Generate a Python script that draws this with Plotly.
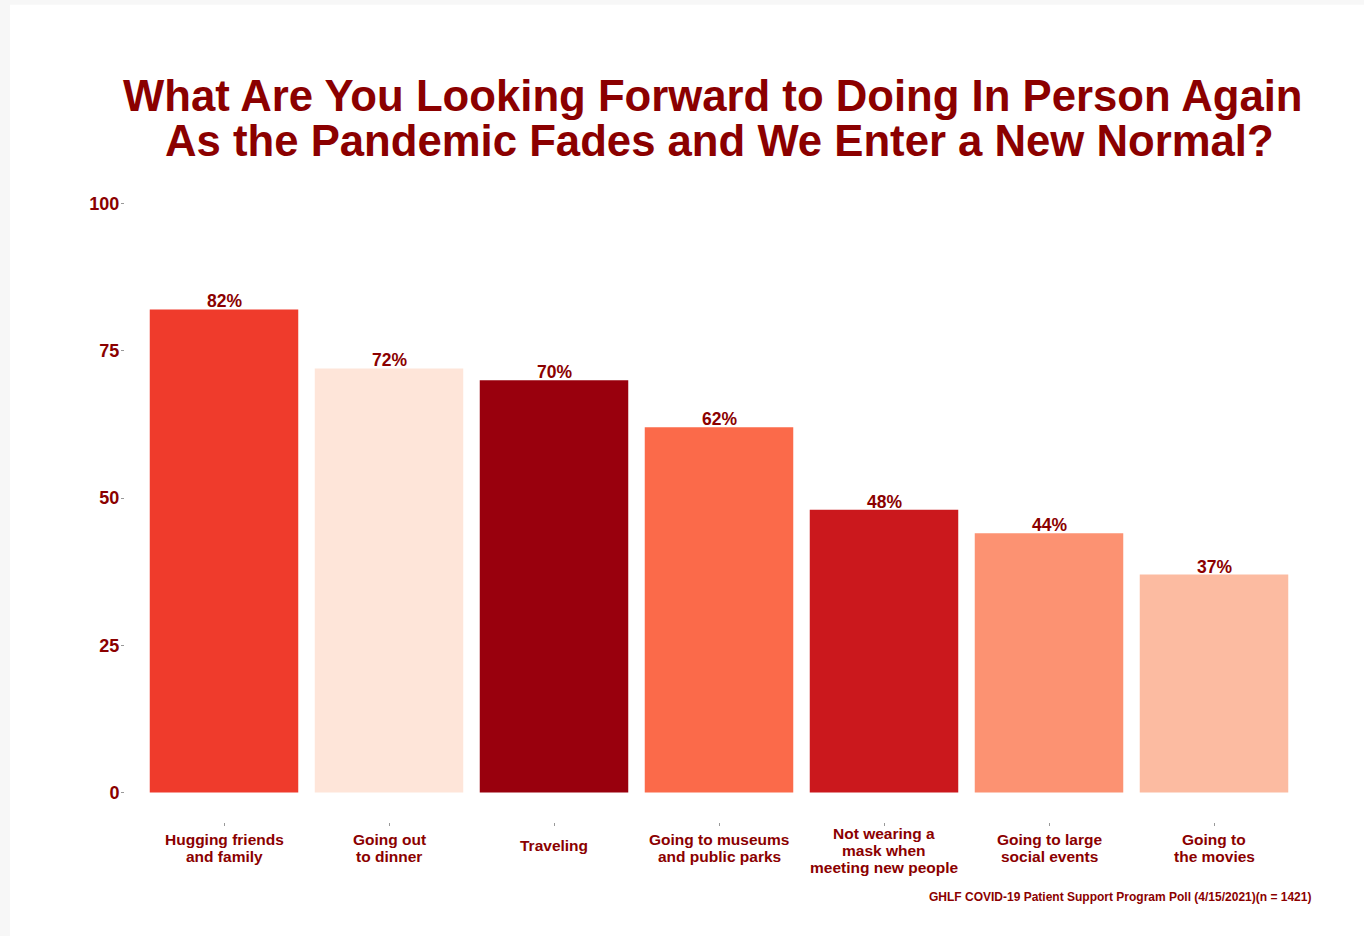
import plotly.graph_objects as go

# Poll results: share of respondents looking forward to each activity
activities = [
    "Hugging friends<br>and family",
    "Going out<br>to dinner",
    "Traveling",
    "Going to museums<br>and public parks",
    "Not wearing a<br>mask when<br>meeting new people",
    "Going to large<br>social events",
    "Going to<br>the movies",
]
percent = [82, 72, 70, 62, 48, 44, 37]
bar_colors = ["#EF3B2C", "#FEE5D9", "#99000D", "#FB6A4A", "#CB181D", "#FC9272", "#FCBBA1"]
y_ticks = [0, 25, 50, 75, 100]

title_lines = [
    "What Are You Looking Forward to Doing In Person Again",
    "As the Pandemic Fades and We Enter a New Normal?",
]
caption = "GHLF COVID-19 Patient Support Program Poll (4/15/2021)(n = 1421)"

DARK_RED = "#8B0000"
FONT = "Liberation Sans, Arial, sans-serif"

# plot-area geometry (pixels) used to place text outside the panel
PLOT_H = 649.0
PLOT_BOTTOM = 822.5


def paper_y(px):
    return (PLOT_BOTTOM - px) / PLOT_H


x_pos = list(range(len(activities)))

fig = go.Figure(
    go.Bar(
        x=x_pos,
        y=percent,
        marker=dict(color=bar_colors, line=dict(width=0)),
        width=0.9,
        hoverinfo="skip",
    )
)

annotations = []
# value labels on top of the bars
for xi, v in zip(x_pos, percent):
    annotations.append(dict(
        x=xi, y=v, xref="x", yref="y", text=f"<b>{v}%</b>", showarrow=False,
        yanchor="bottom", yshift=-4,
        font=dict(family=FONT, size=17.5, color=DARK_RED),
    ))
# category labels: tight line spacing, block vertically centred under each tick
LINE_STEP = 17
for xi, lab in zip(x_pos, activities):
    lines = lab.split("<br>")
    n = len(lines)
    for k, line in enumerate(lines):
        cy = 846 - 6 * (n - 1) + LINE_STEP * k
        annotations.append(dict(
            x=xi, y=paper_y(cy), xref="x", yref="paper", text=f"<b>{line}</b>",
            showarrow=False, yanchor="middle", xanchor="center",
            font=dict(family=FONT, size=15.5, color=DARK_RED),
        ))
# two-line title
for i, line in enumerate(title_lines):
    annotations.append(dict(
        x=0.5, xref="paper", y=paper_y(68 + i * 45), yref="paper",
        xshift=-6 if i == 0 else 0,
        text=f"<b>{line}</b>", showarrow=False, xanchor="center", yanchor="top",
        font=dict(family=FONT, size=43.7, color=DARK_RED),
    ))
# source caption
annotations.append(dict(
    x=1.0, xref="paper", y=paper_y(897.5), yref="paper", text=f"<b>{caption}</b>",
    showarrow=False, xanchor="right", yanchor="middle",
    font=dict(family=FONT, size=12, color=DARK_RED),
))

fig.update_layout(
    width=1364,
    height=936,
    margin=dict(l=125, r=51, t=173.5, b=113.5, pad=0),
    paper_bgcolor="#F7F7F7",
    plot_bgcolor="rgba(0,0,0,0)",
    showlegend=False,
    bargap=0.1,
    annotations=annotations,
    shapes=[dict(
        type="rect", xref="paper", yref="paper", layer="below",
        x0=-0.0968, x1=1.06, y0=-0.2, y1=paper_y(4),
        fillcolor="white", line=dict(width=0),
    )],
    xaxis=dict(
        range=[-0.6, 6.6], tickvals=x_pos, showticklabels=False,
        ticks="outside", ticklen=3, tickcolor="#999999", tickwidth=1,
        showgrid=False, zeroline=False, showline=False, fixedrange=True,
    ),
    yaxis=dict(
        range=[-5, 105], tickvals=y_ticks, ticktext=[f"<b>{t}</b>" for t in y_ticks],
        ticks="outside", ticklen=3, tickcolor="#999999", tickwidth=1,
        ticklabelstandoff=-2,
        tickfont=dict(family=FONT, size=18, color=DARK_RED),
        showgrid=False, zeroline=False, showline=False, fixedrange=True,
    ),
)

fig.write_html("out.html")
